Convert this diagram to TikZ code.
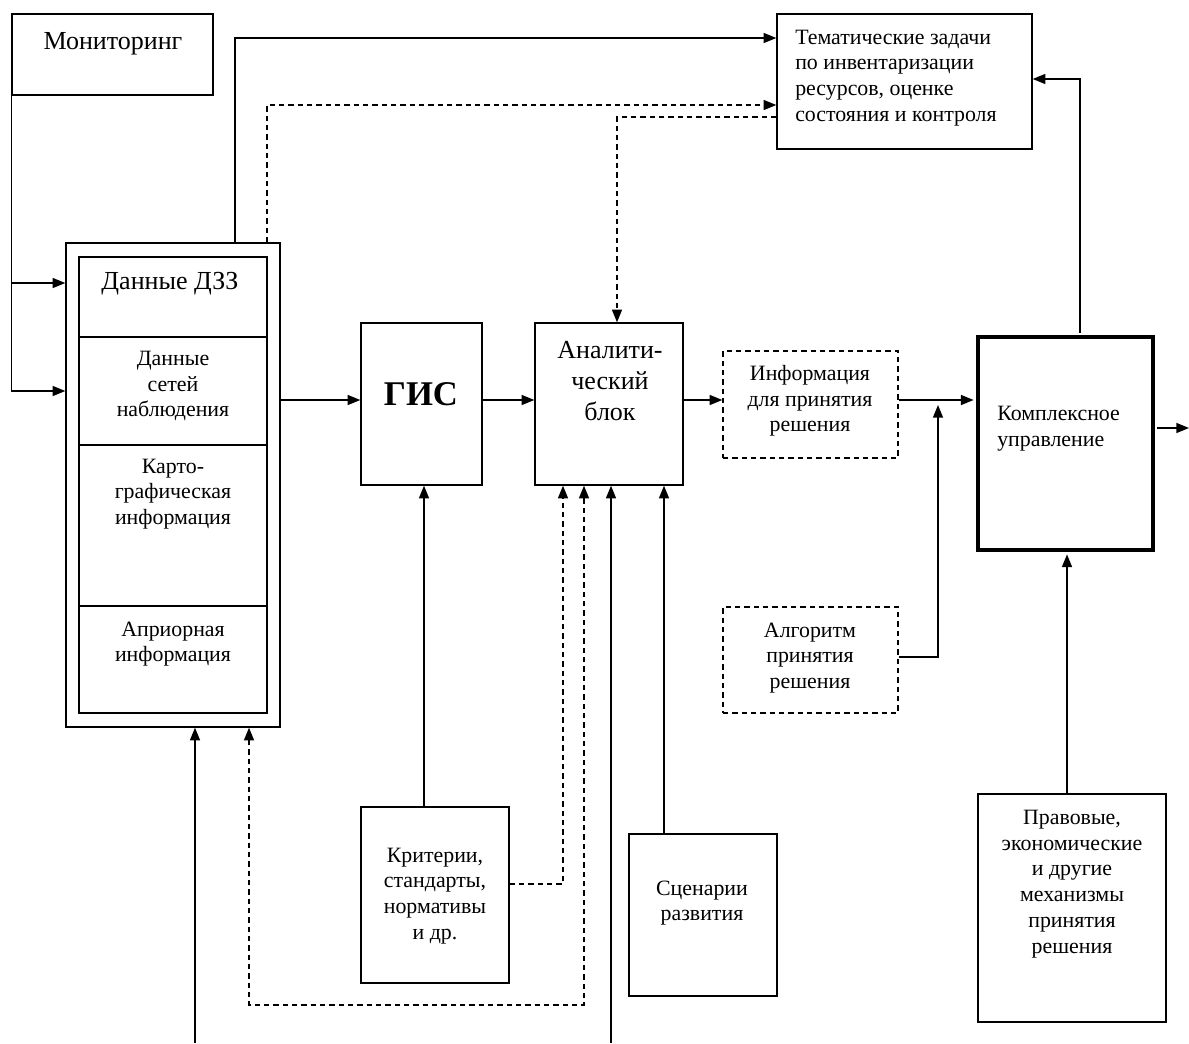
\documentclass[tikz,border=0pt]{standalone}
\usepackage{fontspec}
\setmainfont{Liberation Serif}
\usetikzlibrary{arrows.meta,fit}
\begin{document}
\begin{tikzpicture}[x=0.75pt,y=-0.75pt,
  box/.style={draw,line width=1.05pt,inner sep=0pt},
  dbox/.style={box,dash pattern=on 4pt off 3pt},
  tbox/.style={draw,line width=3.4pt,inner sep=0pt},
  conn/.style={line width=1.05pt},
  arr/.style={conn,-{Triangle[length=9.5pt,width=7.5pt]}},
  darr/.style={arr,dash pattern=on 4pt off 3pt},
  dlink/.style={conn,dash pattern=on 4pt off 3pt,{Triangle[length=9.5pt,width=7.5pt]}-{Triangle[length=9.5pt,width=7.5pt]}},
  txt/.style={inner sep=0pt,align=center,font=\fontsize{16.4}{19.3}\selectfont},
  bigtxt/.style={inner sep=0pt,align=center,font=\fontsize{19.5}{22.5}\selectfont},
]
\useasboundingbox (0,0) rectangle (1189,1043);

% boxes
\node[box,fit={(12,14) (213,95)}] (mon) {};
\node[box,fit={(66,243) (280,727)}] (outer) {};
\node[box,fit={(79,257) (267,337)}] (dzz) {};
\node[box,fit={(79,337) (267,445)}] (seti) {};
\node[box,fit={(79,445) (267,606)}] (karto) {};
\node[box,fit={(79,606) (267,713)}] (apr) {};
\node[box,fit={(777,14) (1032,149)}] (tem) {};
\node[box,fit={(361,323) (482,485)}] (gis) {};
\node[box,fit={(535,323) (683,485)}] (anal) {};
\node[dbox,fit={(723,351) (898,458)}] (info) {};
\node[tbox,fit={(978,337) (1153,550)}] (komp) {};
\node[dbox,fit={(723,607) (898,713)}] (algo) {};
\node[box,fit={(361,807) (509,983)}] (krit) {};
\node[box,fit={(629,834) (777,996)}] (scen) {};
\node[box,fit={(978,794) (1166,1022)}] (prav) {};

% texts
\node[bigtxt] (tmon) at (113,44) {Мониторинг};
\node[bigtxt] (tdzz) at (170,284) {Данные ДЗЗ};
\node[txt] (tseti) at (173,386) {Данные\\сетей\\наблюдения};
\node[txt] (tkarto) at (173,494) {Карто-\\графическая\\информация};
\node[txt] (tapr) at (173,644) {Априорная\\информация};
\node[txt,align=left,anchor=west] (ttem) at (795,78) {Тематические задачи\\по инвентаризации\\ресурсов, оценке\\состояния и контроля};
\node[inner sep=0pt,font=\bfseries\fontsize{26}{30}\selectfont] (tgis) at (421,394) {ГИС};
\node[bigtxt,font=\fontsize{19.5}{23}\selectfont] (tanal) at (610,381) {Аналити-\\ческий\\блок};
\node[txt] (tinfo) at (810,401) {Информация\\для принятия\\решения};
\node[txt,align=left,anchor=west] (tkomp) at (997,429) {Комплексное\\управление};
\node[txt] (talgo) at (810,658) {Алгоритм\\принятия\\решения};
\node[txt] (tkrit) at (435,896) {Критерии,\\стандарты,\\нормативы\\и др.};
\node[txt] (tscen) at (702,903) {Сценарии\\развития};
\node[txt] (tprav) at (1072,884) {Правовые,\\экономические\\и другие\\механизмы\\принятия\\решения};

% helper coordinates
\coordinate (x195) at (195,0);
\coordinate (x235) at (235,0);
\coordinate (x249) at (249,0);
\coordinate (x267) at (267,0);
\coordinate (x424) at (424,0);
\coordinate (x563) at (563,0);
\coordinate (x584) at (584,0);
\coordinate (x611) at (611,0);
\coordinate (x617) at (617,0);
\coordinate (x664) at (664,0);
\coordinate (x938) at (938,0);
\coordinate (x1067) at (1067,0);
\coordinate (x1080) at (1080,0);
\coordinate (xend) at (1189,0);
\coordinate (y38) at (0,38);
\coordinate (y79) at (0,79);
\coordinate (y105) at (0,105);
\coordinate (y117) at (0,117);
\coordinate (y283) at (0,283);
\coordinate (y391) at (0,391);
\coordinate (y400) at (0,400);
\coordinate (y405) at (0,405);
\coordinate (y428) at (0,428);
\coordinate (y657) at (0,657);
\coordinate (y884) at (0,884);
\coordinate (y1005) at (0,1005);
\coordinate (ybot) at (0,1043);

% monitoring feeds
\draw[arr] (mon.south west) |- (outer.west |- y391);
\draw[arr] (mon.south west |- y283) -- (outer.west |- y283);

% top links to thematic tasks
\draw[arr] (x235 |- outer.north) |- (tem.west |- y38);
\draw[darr] (x267 |- outer.north) |- (tem.west |- y105);
\draw[darr] (tem.west |- y117) -| (x617 |- anal.north);

% main chain
\draw[arr] (outer.east |- y400) -- (gis.west |- y400);
\draw[arr] (gis.east |- y400) -- (anal.west |- y400);
\draw[arr] (anal.east |- y400) -- (info.west |- y400);
\draw[arr,shorten >=1.6pt] (info.east |- y400) -- (komp.west |- y400);
\draw[arr] (algo.east |- y657) -| (x938 |- y405);
\draw[arr,shorten <=1.6pt] (komp.east |- y428) -- (xend |- y428);
\draw[arr,shorten <=1.6pt] (x1080 |- komp.north) |- (tem.east |- y79);
\draw[arr,shorten >=1.6pt] (x1067 |- prav.north) -- (x1067 |- komp.south);

% inputs from below
\draw[arr] (x424 |- krit.north) -- (x424 |- gis.south);
\draw[darr] (krit.east |- y884) -| (x563 |- anal.south);
\draw[dlink] (x249 |- outer.south) -- (x249 |- y1005) -| (x584 |- anal.south);
\draw[arr] (x195 |- ybot) -- (x195 |- outer.south);
\draw[arr] (x611 |- ybot) -- (x611 |- anal.south);
\draw[arr] (x664 |- scen.north) -- (x664 |- anal.south);
\end{tikzpicture}
\end{document}
